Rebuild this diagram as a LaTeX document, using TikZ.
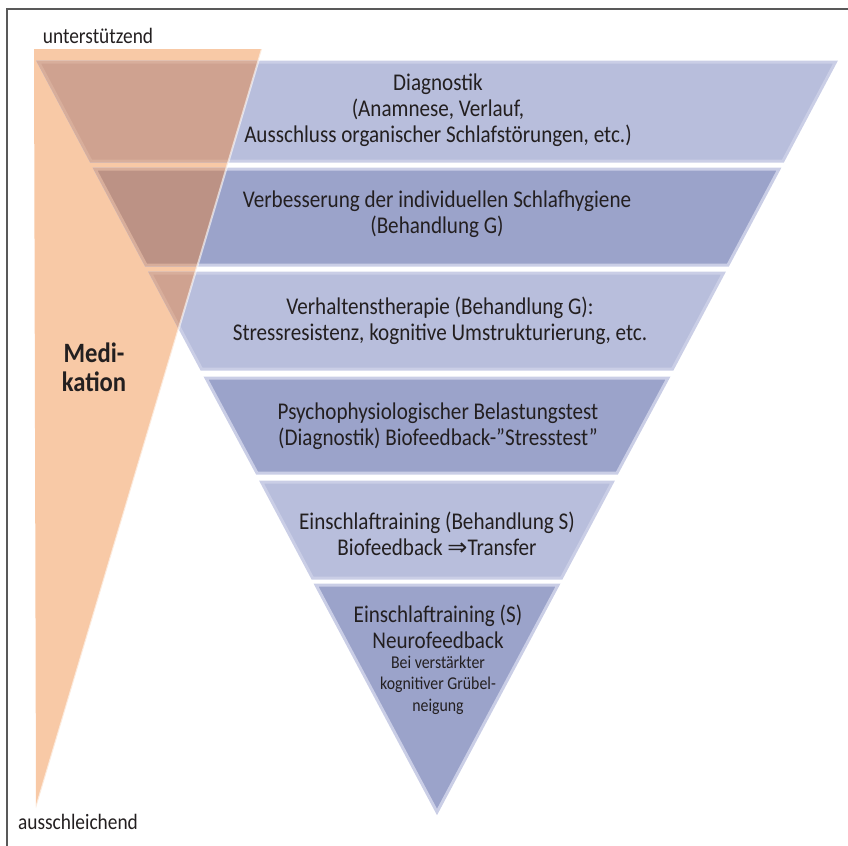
\documentclass[tikz,border=0pt]{standalone}
\usepackage{fontspec}
\setmainfont{Carlito}[FakeStretch=0.88]
\newfontfamily\arrowfont{DejaVu Sans}

\definecolor{medi}{HTML}{F8C9A6}
\definecolor{bandlight}{HTML}{B8BEDC}
\definecolor{banddark}{HTML}{9BA3CA}
\definecolor{bandedge}{HTML}{CACEE6}
\definecolor{overlight}{HTML}{CFA290}
\definecolor{overdark}{HTML}{BC9285}
\definecolor{overedge}{HTML}{D8AE9B}
\definecolor{ink}{HTML}{231F20}

% band outlines of the funnel
\def\bandA{(38.5,62) -- (835.5,62) -- (783,161) -- (91,161) -- cycle}
\def\bandB{(95,169) -- (779,169) -- (728,265) -- (146,265) -- cycle}
\def\bandC{(150.5,273) -- (723.5,273) -- (672.5,369) -- (201.5,369) -- cycle}
\def\bandD{(206,378) -- (668,378) -- (617,473) -- (257,473) -- cycle}
\def\bandE{(261.5,482) -- (612.5,482) -- (561.5,578) -- (312.5,578) -- cycle}
\def\bandF{(316,585) -- (558,585) -- (437,812) -- cycle}
\def\meditri{(34,49) -- (262,49) -- (36,808) -- cycle}

\begin{document}
\begin{tikzpicture}[x=0.5pt,y=-0.5pt,
    every node/.style={text=ink,font=\fontsize{12}{13}\selectfont,align=center,inner sep=0pt},
    light/.style={fill=bandlight,draw=bandedge,line width=1.5pt},
    dark/.style={fill=banddark,draw=bandedge,line width=1.5pt},
    lightover/.style={fill=overlight,draw=overedge,line width=1.5pt},
    darkover/.style={fill=overdark,draw=overedge,line width=1.5pt}]
\useasboundingbox (0,0) rectangle (848,846);
\draw[line width=1pt,black!65] (848,9) -- (7,9) -- (7,846);

% Medikation wedge
\fill[medi] \meditri;

\draw[light] \bandA;
\draw[dark] \bandB;
\draw[light] \bandC;
\draw[dark] \bandD;
\draw[light] \bandE;
\draw[dark] \bandF;

% where the wedge lies over the bands
\begin{scope}
  \clip \meditri;
  \draw[lightover] \bandA;
  \draw[darkover] \bandB;
  \draw[lightover] \bandC;
\end{scope}
\draw[white,opacity=0.6,line width=1pt] (262,49) -- (36,808);

\node (diag) at (438,110) {Diagnostik\\(Anamnese, Verlauf,\\Ausschluss organischer Schlafstörungen, etc.)};
\node (hyg) at (437,214.5) {Verbesserung der individuellen Schlafhygiene\\(Behandlung G)};
\node (vt) at (440,320.5) {Verhaltenstherapie (Behandlung G):\\Stressresistenz, kognitive Umstrukturierung, etc.};
\node (psy) at (438,426.5) {Psychophysiologischer Belastungstest\\(Diagnostik) Biofeedback-\char"201D Stresstest\char"201D};
\node (bio) at (437,533.5) {Einschlaftraining (Behandlung S)\\Biofeedback {\arrowfont ⇒}Transfer};
\node (neuro) at (438,627) {Einschlaftraining (S)\\Neurofeedback};
\node[font=\fontsize{9}{10.75}\selectfont] (grueb) at (438,685) {Bei verstärkter\\kognitiver Grübel-\\neigung};

\node[font=\bfseries\fontsize{14}{14.5}\selectfont] (medi) at (94,367.5) {Medi-\\kation};
\node[font=\fontsize{11}{13}\selectfont] (oben) at (98,36) {unterstützend};
\node[font=\fontsize{11}{13}\selectfont] (unten) at (78,822) {ausschleichend};
\end{tikzpicture}
\end{document}
